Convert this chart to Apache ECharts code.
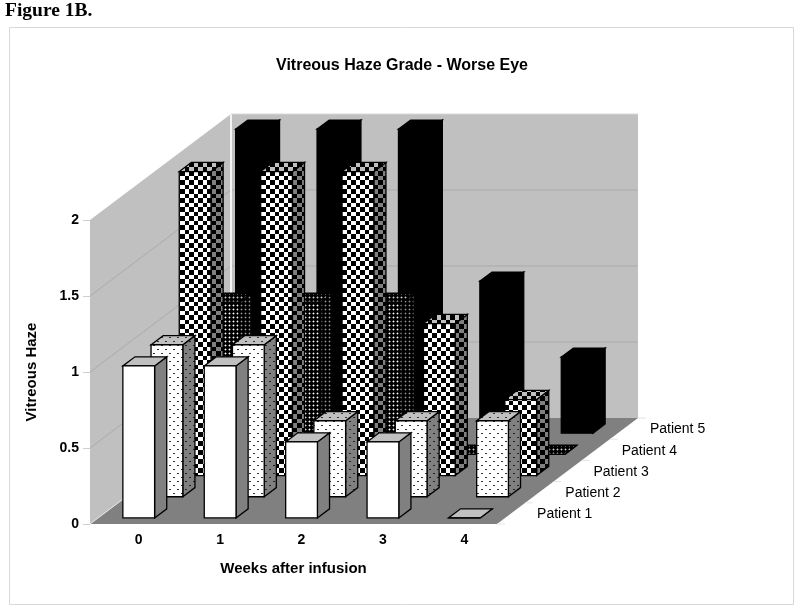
<!DOCTYPE html>
<html><head><meta charset="utf-8">
<style>html,body{margin:0;padding:0;background:#fff}#c{width:800px;height:612px}</style>
<script src="https://cdn.jsdelivr.net/npm/echarts@6/dist/echarts.min.js"></script>
</head><body><div id="c"></div>
<script>
// ---- data ----
const weeks = ['0','1','2','3','4'];
const patients = ['Patient 1','Patient 2','Patient 3','Patient 4','Patient 5'];
const patient1 = [1,1,0.5,0.5,0];
const patient2 = [1,1,0.5,0.5,0.5];
const patient3 = [2,2,2,1,0.5];
const patient4 = [1,1,1,0,0];
const patient5 = [2,2,2,1,0.5];
const yTicks = [0.5,1,1.5,2];
const allValues = [patient1,patient2,patient3,patient4,patient5];

// ---- oblique projection ----
const DEPTH_X = 28.2, DEPTH_Y = 21.2;
const BAR_W = 0.39, BAR_D = 0.43;

// ---- textures ----
function tex(w,h,bg,paint){
  const c=document.createElement('canvas');c.width=w;c.height=h;
  const g=c.getContext('2d');g.fillStyle=bg;g.fillRect(0,0,w,h);paint(g);
  return {image:c,repeat:'repeat'};
}
const dots=(bg,dot)=>tex(8,8,bg,g=>{g.fillStyle=dot;g.fillRect(1,1,2,1);g.fillRect(5,5,2,1);});
const check=(a,b)=>tex(9,9,a,g=>{g.fillStyle=b;g.fillRect(0,0,5,5);g.fillRect(5,5,4,4);});
const mesh=(dot,halo)=>tex(4,4,'#000',g=>{g.fillStyle=halo;g.fillRect(0,1,3,1);g.fillRect(1,0,1,3);g.fillStyle=dot;g.fillRect(1,1,1,1);});
const faces=[
  {front:'#fff',side:'#808080',top:'#c0c0c0'},
  {front:dots('#fff','#333'),side:dots('#808080','#222'),top:dots('#c0c0c0','#333')},
  {front:check('#fff','#000'),side:check('#808080','#000'),top:check('#c0c0c0','#000')},
  {front:mesh('#fff','#666'),side:mesh('#999','#333'),top:mesh('#ccc','#555')},
  {front:'#000',side:'#000',top:'#000'}
];

function poly(pts,fill,stroke,lw){
  return {type:'polygon',shape:{points:pts},style:{fill:fill,stroke:stroke||'none',lineWidth:lw||0}};
}
function line(a,b,color,w){
  return {type:'line',shape:{x1:a[0],y1:a[1],x2:b[0],y2:b[1]},style:{stroke:color,lineWidth:w||1}};
}

function renderBar(p){
  return function(params,api){
    const w=api.value(0),v=api.value(1);
    const band=api.size([1,0])[0];
    const base=api.coord([w,0]),top=api.coord([w,v]);
    const bw=band*BAR_W, gap=(1-BAR_D)/2, f=p+gap, b=p+gap+BAR_D;
    const xl=base[0]-bw/2, xr=base[0]+bw/2;
    const P=(x,y,t)=>[x+DEPTH_X*t,y-DEPTH_Y*t];
    const F=faces[p],k='#000',lw=1.3;
    return {type:'group',children:[
      poly([P(xr,base[1],f),P(xr,base[1],b),P(xr,top[1],b),P(xr,top[1],f)],F.side,k,lw),
      poly([P(xl,top[1],f),P(xr,top[1],f),P(xr,top[1],b),P(xl,top[1],b)],F.top,k,lw),
      poly([P(xl,base[1],f),P(xr,base[1],f),P(xr,top[1],f),P(xl,top[1],f)],F.front,k,lw)
    ]};
  };
}

function renderWalls(params,api){
  const band=api.size([1,0])[0];
  const n=weeks.length,m=patients.length;
  const o=api.coord([0,0]);
  const x0=o[0]-band/2,y0=o[1];
  const x1=x0+band*n;
  const dx=DEPTH_X*m,dy=DEPTH_Y*m;
  const topY=api.coord([0,Math.max(...yTicks)])[1];
  const kids=[
    poly([[x0,y0],[x0,topY],[x0+dx,topY-dy],[x0+dx,y0-dy]],'#c0c0c0'),
    poly([[x0+dx,y0-dy],[x0+dx,topY-dy],[x1+dx,topY-dy],[x1+dx,y0-dy]],'#c0c0c0'),
    poly([[x0,y0],[x1,y0],[x1+dx,y0-dy],[x0+dx,y0-dy]],'#808080')
  ];
  yTicks.forEach(t=>{
    const y=api.coord([0,t])[1];
    if(t===Math.max(...yTicks)) return;
    kids.push(line([x0,y],[x0+dx,y-dy],'#ababab'));
    kids.push(line([x0+dx,y-dy],[x1+dx,y-dy],'#ababab'));
  });
  kids.push(line([x0+dx,y0-dy],[x0+dx,topY-dy],'#f4f4f4',2));
  kids.push(line([x0+dx,topY-dy],[x1+dx,topY-dy],'#d8d8d8',1));
  kids.push(line([x0,y0],[x0+dx,y0-dy],'#eaeaea',1));
  for(let i=0;i<=m;i++){
    const a=[x1+DEPTH_X*i,y0-DEPTH_Y*i];
    kids.push(line(a,[a[0]+8,a[1]],'#e4e4e4',1));
  }
  return {type:'group',children:kids};
}

function renderPatientLabel(params,api){
  const band=api.size([1,0])[0];
  const i=params.dataIndex;
  const o=api.coord([weeks.length-1,0]);
  const x=o[0]+band/2+DEPTH_X*(i+0.5)+26;
  const y=o[1]-DEPTH_Y*(i+0.5)+1;
  return {type:'text',style:{x:x,y:y,text:patients[i],fill:'#000',
    font:'14px "Liberation Sans"',textAlign:'left',textVerticalAlign:'middle'}};
}

const barSeries=allValues.map((vals,p)=>({p,vals})).reverse().map(({p,vals})=>({
  type:'custom',name:patients[p],silent:true,
  coordinateSystem:'cartesian2d',
  renderItem:renderBar(p),
  data:vals.map((v,w)=>[w,v]),
  encode:{x:0,y:1},clip:false
}));

const chart=echarts.init(document.getElementById('c'),null,{renderer:'canvas'});
chart.setOption({
  animation:false,
  backgroundColor:'#fff',
  graphic:[{type:'rect',shape:{x:9.5,y:27.5,width:784,height:577},z:-10,silent:true,
    style:{fill:'#fff',stroke:'#d8d8d8',lineWidth:1}}],
  title:[
    {text:'Figure 1B.',left:5,top:1,padding:0,textStyle:{fontFamily:'Liberation Serif',fontWeight:'bold',fontSize:19.5,color:'#000'}},
    {text:'Vitreous Haze Grade - Worse Eye',left:402,top:58,padding:0,textAlign:'center',textStyle:{fontFamily:'Liberation Sans',fontWeight:'bold',fontSize:16,color:'#000'}}
  ],
  grid:{left:90,top:220,width:407,height:304,containLabel:false},
  xAxis:{type:'category',data:weeks,
    name:'Weeks after infusion',nameLocation:'middle',nameGap:37,
    nameTextStyle:{fontFamily:'Liberation Sans',fontWeight:'bold',fontSize:15,color:'#000',padding:[0,0,0,0]},
    axisLine:{show:false},axisTick:{show:false},splitLine:{show:false},
    axisLabel:{margin:9,padding:[0,0,0,16],fontFamily:'Liberation Sans',fontWeight:'bold',fontSize:14,color:'#000'}},
  yAxis:{type:'value',min:0,max:2,interval:0.5,
    name:'Vitreous Haze',nameLocation:'middle',nameRotate:90,nameGap:51,
    nameTextStyle:{fontFamily:'Liberation Sans',fontWeight:'bold',fontSize:15,color:'#000'},
    axisLine:{show:false},splitLine:{show:false},
    axisTick:{show:true,length:7,lineStyle:{color:'#cfcfcf'}},
    axisLabel:{margin:11,padding:[4,0,0,0],fontFamily:'Liberation Sans',fontWeight:'bold',fontSize:14,color:'#000'}},
  series:[
    {type:'custom',name:'walls',silent:true,renderItem:renderWalls,data:[[0,0]],encode:{x:0,y:1},clip:false},
    ...barSeries,
    {type:'custom',name:'depth axis',silent:true,renderItem:renderPatientLabel,
      data:patients.map(()=>[0,0]),encode:{x:0,y:1},clip:false}
  ]
});
</script></body></html>
